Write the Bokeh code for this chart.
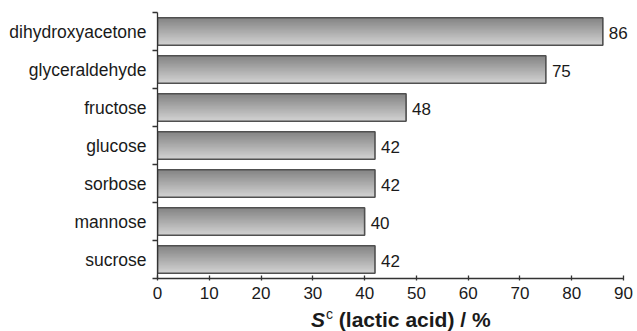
from bokeh.plotting import figure
from bokeh.models import (Range1d, FixedTicker, CustomJSTickFormatter, ColumnDataSource,
                          LabelSet, Div)
from bokeh.layouts import column
from bokeh.core.properties import value
from bokeh.embed import file_html
from bokeh.resources import INLINE

categories = ["dihydroxyacetone", "glyceraldehyde", "fructose", "glucose",
              "sorbose", "mannose", "sucrose"]
values = [86, 75, 48, 42, 42, 40, 42]
x_ticks = [0, 10, 20, 30, 40, 50, 60, 70, 80, 90]
axis_title_html = ('<b><i>S</i><span style="position:relative;top:-8px;font-size:14px;'
                   'font-weight:normal;margin-left:1px">c</span> (lactic acid) / %</b>')

FONT = "Liberation Sans"
TXT = "#1a1a1a"

n = len(categories)
centers = [i + 0.5 for i in range(n)]
x_max = 92.5

p = figure(frame_width=479, frame_height=266,
           x_range=Range1d(0, x_max), y_range=Range1d(n, 0),
           output_backend="svg", toolbar_location=None,
           min_border_left=157, min_border_right=0, min_border_top=12,
           min_border_bottom=28)
p.outline_line_color = None
p.xgrid.visible = False
p.ygrid.visible = False

# gradient bars: overlapping strips, dark at top to light at bottom
bar_h = 0.72
N = 40
c0 = (0x84, 0x84, 0x84)
c1 = (0xd2, 0xd2, 0xd2)
for k in range(N):
    t = k / (N - 1)
    col = "#%02x%02x%02x" % tuple(int(round(a + (b - a) * t)) for a, b in zip(c0, c1))
    top_off = -bar_h / 2 + k * bar_h / N
    hh = bar_h / 2 - top_off
    ys = [c + top_off + hh / 2 for c in centers]
    p.hbar(y=ys, left=0, right=values, height=hh, fill_color=col, line_color=None)

p.hbar(y=centers, left=0, right=values, height=bar_h, fill_color=None,
       line_color="#505050", line_width=1.6)

src = ColumnDataSource(dict(x=values, y=centers, t=[str(v) for v in values]))
p.add_layout(LabelSet(x="x", y="y", text="t", source=src, x_offset=6, y_offset=-1,
                      text_baseline="middle", text_font=value(FONT),
                      text_font_size=value("17px"), text_color=TXT))

# axes
xa = p.xaxis[0]
xa.bounds = (x_ticks[0], x_ticks[-1])
xa.ticker = FixedTicker(ticks=x_ticks, minor_ticks=[])
xa.major_label_text_font = FONT
xa.major_label_text_font_size = "17px"
xa.major_label_text_color = TXT
xa.major_tick_in = 3
xa.major_tick_out = 2
xa.major_label_standoff = 6
xa.axis_line_color = "#333333"
xa.axis_line_width = 1.3
xa.major_tick_line_color = "#333333"
xa.major_tick_line_width = 1.3
xa.minor_tick_line_color = None

ya = p.yaxis[0]
ya.ticker = FixedTicker(ticks=centers, minor_ticks=list(range(n + 1)))
ya.formatter = CustomJSTickFormatter(args=dict(cats=categories),
                                     code="return cats[Math.floor(tick)];")
ya.major_label_text_font = FONT
ya.major_label_text_font_size = "17.5px"
ya.major_label_text_color = TXT
ya.major_tick_line_color = None
ya.major_tick_out = 4
ya.major_tick_in = 0
ya.major_label_standoff = 6
ya.minor_tick_line_color = "#333333"
ya.minor_tick_line_width = 1.3
ya.minor_tick_out = 5
ya.minor_tick_in = 0
ya.axis_line_color = "#333333"
ya.axis_line_width = 1.3

title = Div(text=axis_title_html, width=300, height=22, margin=(3, 0, 0, 311),
            styles={"font-family": FONT, "font-size": "21px", "color": TXT,
                    "line-height": "22px", "white-space": "nowrap"})

layout = column(p, title, spacing=0)
open("out.html", "w").write(file_html(layout, INLINE))
